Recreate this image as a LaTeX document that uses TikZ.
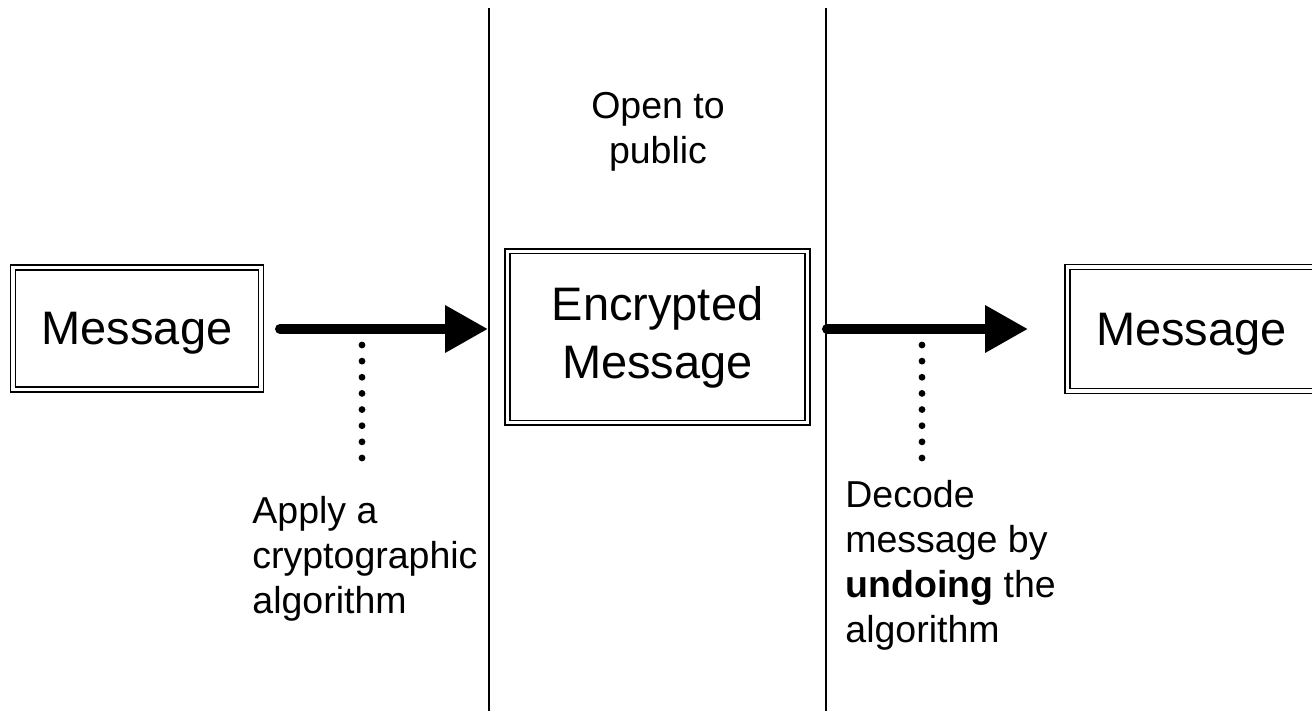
\documentclass[tikz,border=0pt]{standalone}
\usepackage{fontspec}
\setmainfont{Liberation Sans}
\usetikzlibrary{arrows.meta,positioning}

\begin{document}
\begin{tikzpicture}[x=.5pt,y=-.5pt,
 stagebox/.style={draw,double,line width=.7pt,double distance=1.7pt,inner sep=0pt,align=center,font=\fontsize{23.5}{29}\selectfont},
 note/.style={inner sep=0pt,font=\fontsize{18.75}{22.5}\selectfont},
 flow/.style={line width=5pt,line cap=round,-{Triangle[length=21.5pt,width=22.5pt]}},
 link/.style={line width=3.4pt,line cap=round,dash pattern=on 0pt off 8.07pt},
 divider/.style={line width=.75pt}]
\useasboundingbox (0,0) rectangle (1312,711);
\coordinate (divLtop) at (489,8);
\coordinate (divLbot) at (489,711);
\coordinate (divRtop) at (826,8);
\coordinate (divRbot) at (826,711);
\draw[divider] (divLtop)--(divLbot);
\draw[divider] (divRtop)--(divRbot);
\node[stagebox,minimum width=124pt,minimum height=61pt,text depth=0pt] (plain) at (137,328.5) {Message};
\node[stagebox,minimum width=150pt,minimum height=85.6pt] (cipher) at (657.5,337) {Encrypted\\Message};
\node[stagebox,minimum width=124pt,minimum height=62pt,text depth=0pt] (decoded) at (1191.4,329) {Message};
\node[note,align=center,anchor=base] (public) at (658,164) {Open to\\public};
\node[note,align=left,anchor=base west] (apply) at (252,613) {Apply a\\cryptographic\\algorithm};
\node[note,align=left,anchor=base west] (decode) at (845,642) {Decode\\message by\\\textbf{undoing} the\\algorithm};
\coordinate (encA) at (280,329);
\coordinate (encB) at (divLtop |- encA);
\coordinate (decA) at (827,329);
\coordinate (decB) at (1028,329);
\draw[flow] (encA)--([xshift=-.5pt]encB);
\draw[flow] (decA)--(decB);
\coordinate (applyA) at (362,345);
\coordinate (applyB) at (362,459);
\coordinate (decodeA) at (922,345);
\coordinate (decodeB) at (922,459);
\draw[link] (applyA)--(applyB);
\draw[link] (decodeA)--(decodeB);
\end{tikzpicture}
\end{document}
